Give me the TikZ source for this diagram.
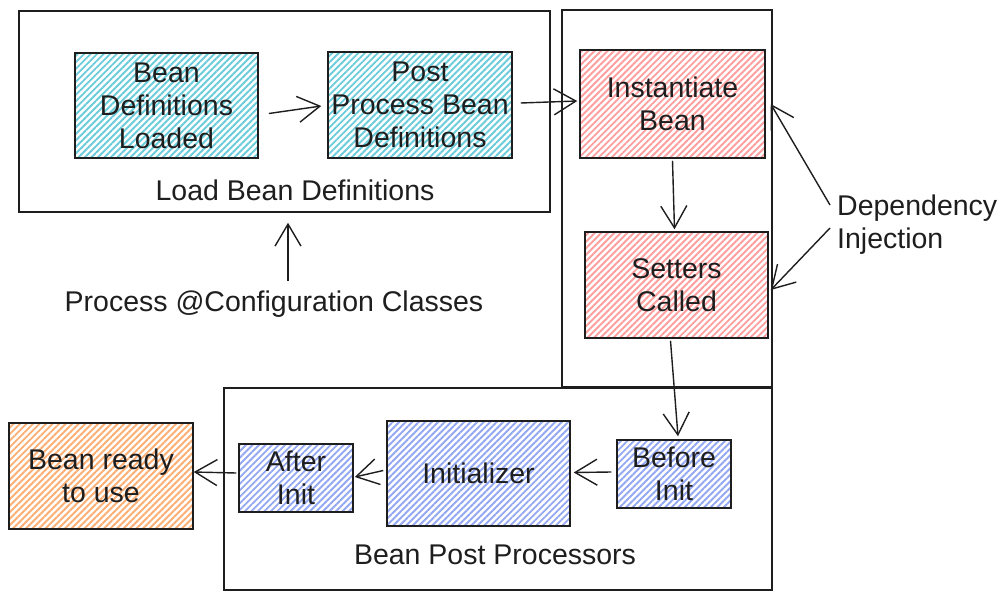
\documentclass[tikz,border=0pt]{standalone}
\usepackage{fontspec}
\setmainfont{Liberation Sans}
\usetikzlibrary{arrows.meta,patterns.meta,calc}
\definecolor{ink}{HTML}{1E1E1E}
\definecolor{cyanh}{HTML}{6ACBDA}
\definecolor{redh}{HTML}{FF9E9E}
\definecolor{blueh}{HTML}{94A7F3}
\definecolor{orangeh}{HTML}{FDAE72}
\tikzset{
  every node/.style={font=\fontsize{28.5}{33}\selectfont, text=ink, align=center, inner sep=0pt},
  frame/.style={draw=ink, line width=1.5pt, rectangle},
  hbox/.style={draw=ink, line width=1.5pt, rectangle,
    pattern={Lines[angle=45,distance=4.6pt,line width=1.9pt]}, pattern color=#1},
  arr/.style={draw=ink, line width=1.4pt, -{Straight Barb[length=22pt,width=26pt,line width=1.4pt]}},
}
\begin{document}
\begin{tikzpicture}[x=1pt,y=-1pt]
\useasboundingbox (0,0) rectangle (1002,600);
% containers
\node[frame, minimum width=531, minimum height=201] (load) at (284.5,111.5) {};
\node[frame, minimum width=210, minimum height=377] (col) at (667,198.5) {};
\node[frame, minimum width=548, minimum height=202] (bpp) at (498,489) {};
% labels
\node (loadlbl) at (295,190) {Load Bean Definitions};
\node (bpplbl) at (495,555) {Bean Post Processors};
\node (pcc) at (274,304) {Process @Configuration Classes};
\node[align=left, anchor=west] (di) at (837,225) {Dependency\\Injection};
% boxes
\node[hbox=cyanh, minimum width=183, minimum height=105] (bdl) at (166.5,105.5) {Bean\\Definitions\\Loaded};
\node[hbox=cyanh, minimum width=184, minimum height=106] (ppbd) at (420,105) {Post\\Process Bean\\Definitions};
\node[hbox=redh, minimum width=185, minimum height=108] (inst) at (672.5,104) {Instantiate\\Bean};
\node[hbox=redh, minimum width=183, minimum height=106] (set) at (676.5,285) {Setters\\Called};
\node[hbox=blueh, minimum width=114, minimum height=68] (before) at (674,474) {Before\\Init};
\node[hbox=blueh, minimum width=183, minimum height=105] (init) at (478.5,473.5) {Initializer};
\node[hbox=blueh, minimum width=114, minimum height=68] (after) at (296,478) {After\\Init};
\node[hbox=orangeh, minimum width=184, minimum height=106] (ready) at (101,476) {Bean ready\\to use};
% connectors
\draw[arr] ($(bdl.east)+(10,8)$) -- ($(ppbd.west)+(-6,1)$);
\draw[arr] ($(ppbd.east)+(8,-2)$) -- ($(inst.west)+(-2,-3)$);
\draw[arr] ($(inst.south)+(0,2)$) -- ($(set.north)+(-2,-2)$);
\draw[arr] ($(set.south)+(-6,2)$) -- ($(before.north)+(4,-3)$);
\draw[arr] ($(before.west)+(-5,-2)$) -- ($(init.east)+(3,-1)$);
\draw[arr] ($(init.west)+(-3,-3)$) -- ($(after.east)+(1,-1)$);
\draw[arr] ($(after.west)+(-2,-5)$) -- ($(ready.east)+(0,-4)$);
\draw[arr] ($(pcc.north)+(14,-10)$) -- ($(load.south)+(3.5,10)$);
\draw[arr] ($(di.west)+(-7,-20)$) -- ($(inst.east)+(5,0)$);
\draw[arr] ($(di.west)+(-7,3)$) -- ($(set.east)+(2,5)$);
\end{tikzpicture}
\end{document}
